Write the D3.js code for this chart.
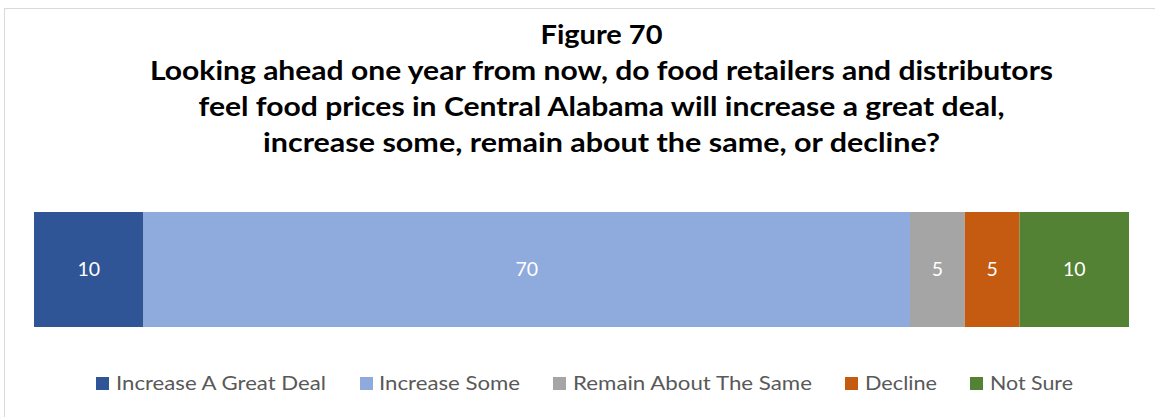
<!DOCTYPE html>
<html>
<head>
<meta charset="utf-8">
<script src="https://cdn.jsdelivr.net/npm/d3@7"></script>
<style>
  html, body { margin: 0; padding: 0; background: #fff; }
  svg { display: block; }
</style>
</head>
<body>
<svg id="chart" width="1155" height="417"></svg>
<script>
// Survey responses (percent) for one stacked bar
const categories = ["Increase A Great Deal", "Increase Some", "Remain About The Same", "Decline", "Not Sure"];
const values = [10, 70, 5, 5, 10];
const colors = ["#2F5597", "#8FAADC", "#A5A5A5", "#C55A11", "#548235"];
const titleLines = [
  "Figure 70",
  "Looking ahead one year from now, do food retailers and distributors",
  "feel food prices in Central Alabama will increase a great deal,",
  "increase some, remain about the same, or decline?"
];

const FONT = "Lato, 'Open Sans', 'DejaVu Sans', sans-serif";
const svg = d3.select("#chart");

// chart frame
svg.append("rect")
  .attr("x", 4.5).attr("y", 8.5)
  .attr("width", 1300).attr("height", 600)
  .attr("fill", "#fff")
  .attr("stroke", "#d9d9d9").attr("stroke-width", 1);

// title block
const titleWidths = [122, 903, 806, 677];
svg.append("g").selectAll("text")
  .data(titleLines)
  .join("text")
  .attr("x", 601.5)
  .attr("y", (d, i) => 44 + i * 36)
  .attr("text-anchor", "middle")
  .attr("font-family", FONT)
  .attr("font-weight", "bold")
  .attr("font-size", 27)
  .attr("fill", "#000")
  .attr("textLength", (d, i) => titleWidths[i])
  .attr("lengthAdjust", "spacingAndGlyphs")
  .text(d => d);

// stacked segments
const starts = d3.cumsum([0, ...values]).slice(0, values.length);
const segs = categories.map((c, i) => ({ cat: c, value: values[i], start: starts[i], color: colors[i] }));

const x = d3.scaleLinear().domain([0, d3.sum(values)]).range([34, 1129]);
const y = d3.scaleBand().domain(["all"]).range([212, 327]).padding(0);

const bar = svg.append("g");
bar.selectAll("rect")
  .data(segs)
  .join("rect")
  .attr("x", d => x(d.start))
  .attr("y", y("all"))
  .attr("width", d => x(d.start + d.value) - x(d.start))
  .attr("height", y.bandwidth())
  .attr("fill", d => d.color);

bar.selectAll("text")
  .data(segs)
  .join("text")
  .attr("x", d => x(d.start + d.value / 2))
  .attr("y", y("all") + y.bandwidth() / 2)
  .attr("dy", "0.35em")
  .attr("text-anchor", "middle")
  .attr("font-family", FONT)
  .attr("font-size", 19.5)
  .attr("fill", "#fff")
  .text(d => d.value);

// legend
const legendItems = [
  { sq: 96, tx: 116, w: 210 },
  { sq: 360, tx: 379, w: 141 },
  { sq: 553, tx: 573, w: 239 },
  { sq: 845, tx: 865, w: 72 },
  { sq: 970, tx: 990, w: 83 }
];
const legend = svg.append("g");
const li = legend.selectAll("g")
  .data(segs)
  .join("g");
li.append("rect")
  .attr("x", (d, i) => legendItems[i].sq)
  .attr("y", 377)
  .attr("width", 13).attr("height", 13)
  .attr("fill", d => d.color);
li.append("text")
  .attr("x", (d, i) => legendItems[i].tx)
  .attr("y", 390)
  .attr("font-family", FONT)
  .attr("font-size", 20)
  .attr("fill", "#595959")
  .attr("textLength", (d, i) => legendItems[i].w)
  .attr("lengthAdjust", "spacingAndGlyphs")
  .text(d => d.cat);
</script>
</body>
</html>
